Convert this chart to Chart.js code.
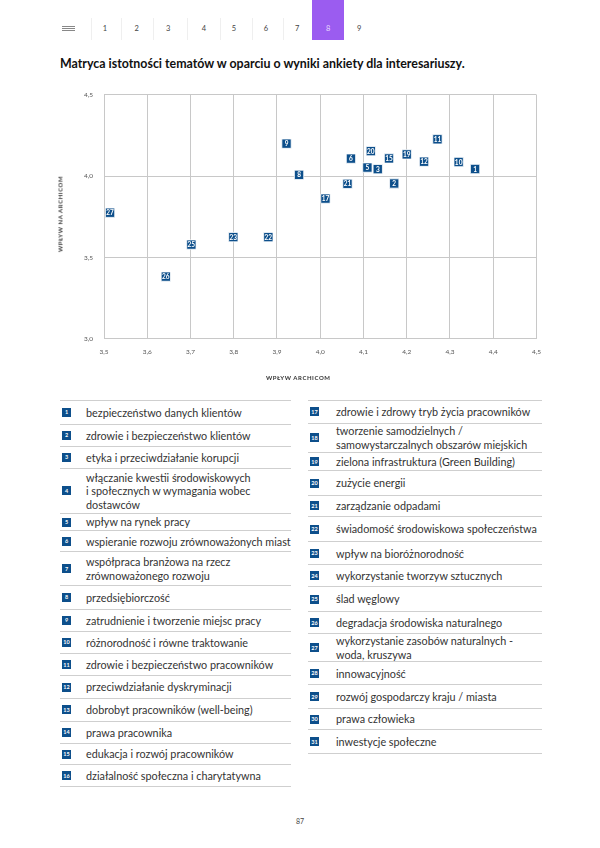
<!DOCTYPE html>
<html lang="pl">
<head>
<meta charset="utf-8">
<script src="https://cdn.jsdelivr.net/npm/chart.js@4.4.1/dist/chart.umd.min.js"></script>
<style>
  html, body { margin: 0; padding: 0; background: #fff; }
  body { width: 600px; height: 848px; position: relative; font-family: Lato, "Noto Sans", sans-serif; color: #333; overflow: hidden; }
  .abs { position: absolute; }
  .nav-num { position: absolute; top: 24px; width: 20px; text-align: center; font-size: 7.5px; color: #444; }
  .nav-sep { position: absolute; top: 18px; height: 22px; width: 1px; background: #efefef; }
  .burger { position: absolute; left: 62px; width: 13px; height: 1px; background: #888; }
  h1 { position: absolute; left: 60px; top: 56px; margin: 0; font-size: 12.4px; font-weight: 700; color: #111; white-space: nowrap; }
  .axis-title { position: absolute; font-size: 6px; letter-spacing: 0.55px; color: #333; font-weight: 700; white-space: nowrap; }
  .row { position: absolute; display: flex; align-items: center; border-bottom: 1px solid #cfcfcf; box-sizing: border-box; }
  .row .box { width: 9px; height: 9px; background: #0d4f8b; color: #fff; font-size: 5.5px; font-weight: 700; display: flex; align-items: center; justify-content: center; flex: none; }
  .row .txt { font-size: 10.8px; line-height: 13.5px; color: #333; white-space: nowrap; }
  .line-top { position: absolute; height: 1px; background: #cfcfcf; }
</style>
</head>
<body>

<div class="burger" style="top:26px"></div>
<div class="burger" style="top:28px"></div>
<div class="burger" style="top:30px"></div>
<div class="abs" style="left:312px; top:0; width:32px; height:40px; background:#9b5cf0;"></div>
<div id="nav"></div>

<h1>Matryca istotności tematów w oparciu o wyniki ankiety dla interesariuszy.</h1>

<div class="abs" style="left:50px; top:80px; width:500px; height:310px;">
  <canvas id="chart"></canvas>
</div>
<div class="axis-title" style="left:266px; top:374px;">WPŁYW ARCHICOM</div>
<div class="axis-title" style="left:60px; top:214px; transform: translate(-50%, -50%) rotate(-90deg);">WPŁYW NA ARCHICOM</div>

<div id="legend"></div>

<div class="abs" style="left:290px; top:817px; width:20px; text-align:center; font-size:7px; color:#444;">87</div>

<script>
// numery tematów na wykresie
const topicIds = [1, 2, 3, 5, 6, 8, 9, 10, 11, 12, 15, 17, 19, 20, 21, 22, 23, 25, 26, 27];
// wpływ Archicom (oś X)
const impactArchicom = [4.358, 4.171, 4.133, 4.109, 4.071, 3.951, 3.922, 4.320, 4.271, 4.240, 4.159, 4.012, 4.200, 4.117, 4.063, 3.880, 3.799, 3.702, 3.643, 3.514];
// wpływ na Archicom (oś Y)
const impactOnArchicom = [4.044, 3.955, 4.043, 4.053, 4.108, 4.008, 4.200, 4.087, 4.227, 4.089, 4.109, 3.862, 4.134, 4.154, 3.953, 3.625, 3.625, 3.579, 3.382, 3.775];

const xTickLabels = ['3,5', '3,6', '3,7', '3,8', '3,9', '4,0', '4,1', '4,2', '4,3', '4,4', '4,5'];
const yTickLabels = ['3,0', '3,5', '4,0', '4,5'];

const navPages = ['1', '2', '3', '4', '5', '6', '7', '8', '9'];

// legenda - lewa kolumna
const legendLeftIds = [1, 2, 3, 4, 5, 6, 7, 8, 9, 10, 11, 12, 13, 14, 15, 16];
const legendLeftTexts = [
    'bezpieczeństwo danych klientów',
    'zdrowie i bezpieczeństwo klientów',
    'etyka i przeciwdziałanie korupcji',
    'włączanie kwestii środowiskowych<br>i społecznych w wymagania wobec<br>dostawców',
    'wpływ na rynek pracy',
    'wspieranie rozwoju zrównoważonych miast',
    'współpraca branżowa na rzecz<br>zrównoważonego rozwoju',
    'przedsiębiorczość',
    'zatrudnienie i tworzenie miejsc pracy',
    'różnorodność i równe traktowanie',
    'zdrowie i bezpieczeństwo pracowników',
    'przeciwdziałanie dyskryminacji',
    'dobrobyt pracowników (well-being)',
    'prawa pracownika',
    'edukacja i rozwój pracowników',
    'działalność społeczna i charytatywna'
];
// legenda - prawa kolumna
const legendRightIds = [17, 18, 19, 20, 21, 22, 23, 24, 25, 26, 27, 28, 29, 30, 31];
const legendRightTexts = [
    'zdrowie i zdrowy tryb życia pracowników',
    'tworzenie samodzielnych /<br>samowystarczalnych obszarów miejskich',
    'zielona infrastruktura (Green Building)',
    'zużycie energii',
    'zarządzanie odpadami',
    'świadomość środowiskowa społeczeństwa',
    'wpływ na bioróżnorodność',
    'wykorzystanie tworzyw sztucznych',
    'ślad węglowy',
    'degradacja środowiska naturalnego',
    'wykorzystanie zasobów naturalnych -<br>woda, kruszywa',
    'innowacyjność',
    'rozwój gospodarczy kraju / miasta',
    'prawa człowieka',
    'inwestycje społeczne'
];

// pozycje linii oddzielających wiersze
const leftLines = [400.7, 424.3, 446.7, 468.3, 513.3, 531, 551.7, 585.7, 609.3, 631.7, 653.3, 676, 698, 721.7, 743.3, 765, 786.7];
const rightLines = [400.7, 423.3, 452.3, 471, 495, 516.7, 541.7, 565, 586.7, 611.7, 634, 661.7, 685, 708.3, 730, 753.3];

// nawigacja
const navX = [105, 136.7, 168.3, 204, 234, 266, 297.3, 328.3, 359.3];
const sepX = [90.7, 121, 152.7, 186.7, 220, 251.7, 283.3];
const nav = document.getElementById('nav');
navPages.forEach((p, i) => {
    const d = document.createElement('div');
    d.className = 'nav-num';
    d.style.left = (navX[i] - 10) + 'px';
    d.textContent = p;
    if (p === '8') d.style.color = '#e9dcff';
    nav.appendChild(d);
});
sepX.forEach(x => {
    const s = document.createElement('div');
    s.className = 'nav-sep';
    s.style.left = x + 'px';
    nav.appendChild(s);
});

function renderizarLegenda(ids, texts, lines, left, width, txtLeft) {
    const legend = document.getElementById('legend');
    const top = document.createElement('div');
    top.className = 'line-top';
    top.style.left = left + 'px';
    top.style.width = width + 'px';
    top.style.top = (lines[0] - 0.5) + 'px';
    legend.appendChild(top);
    ids.forEach((id, i) => {
        const row = document.createElement('div');
        row.className = 'row';
        row.style.left = left + 'px';
        row.style.width = width + 'px';
        row.style.top = (lines[i] + 0.5) + 'px';
        row.style.height = (lines[i + 1] - lines[i]) + 'px';
        row.innerHTML = `<div class="box" style="margin-left:2px">${id}</div><div class="txt" style="margin-left:${txtLeft}px">${texts[i]}</div>`;
        legend.appendChild(row);
    });
}
renderizarLegenda(legendLeftIds, legendLeftTexts, leftLines, 60, 231, 15);
renderizarLegenda(legendRightIds, legendRightTexts, rightLines, 308, 234, 17);

// numery w kwadratach
const numberLabels = {
    id: 'numberLabels',
    afterDatasetsDraw(chart) {
        const ctx = chart.ctx;
        const meta = chart.getDatasetMeta(0);
        ctx.save();
        ctx.font = 'bold 6.5px Lato';
        ctx.fillStyle = '#ffffff';
        ctx.textAlign = 'center';
        ctx.textBaseline = 'middle';
        meta.data.forEach((pt, i) => {
            ctx.fillText(String(topicIds[i]), pt.x, pt.y + 0.5);
        });
        ctx.restore();
    }
};

const gridColor = '#c8c8c8';
const tickFont = { family: 'Lato', size: 6.5 };

new Chart(document.getElementById('chart').getContext('2d'), {
    type: 'scatter',
    data: {
        datasets: [{
            data: topicIds.map((id, i) => ({ x: impactArchicom[i], y: impactOnArchicom[i] })),
            pointStyle: 'rect',
            pointRadius: 6.6,
            pointHoverRadius: 6.6,
            backgroundColor: '#0d4f8b',
            borderColor: '#ffffff',
            borderWidth: 0.8
        }]
    },
    options: {
        responsive: true,
        maintainAspectRatio: false,
        animation: false,
        layout: { padding: { top: 11.7, right: 8, bottom: 0, left: 0 } },
        plugins: { legend: { display: false }, tooltip: { enabled: false } },
        scales: {
            x: {
                type: 'linear',
                min: 3.5,
                max: 4.5,
                afterFit: scale => { scale.height = 51.3; },
                ticks: {
                    stepSize: 0.1,
                    padding: 9,
                    color: '#555',
                    font: tickFont,
                    maxRotation: 0,
                    callback: (value, index) => xTickLabels[index]
                },
                grid: { color: gridColor, lineWidth: 1, drawTicks: false },
                border: { color: gridColor }
            },
            y: {
                type: 'linear',
                min: 3.0,
                max: 4.5,
                afterFit: scale => { scale.width = 54; },
                ticks: {
                    stepSize: 0.5,
                    padding: 11,
                    color: '#555',
                    font: tickFont,
                    callback: (value, index) => yTickLabels[index]
                },
                grid: { color: gridColor, lineWidth: 1, drawTicks: false },
                border: { color: gridColor }
            }
        }
    },
    plugins: [numberLabels]
});
</script>
</body>
</html>
